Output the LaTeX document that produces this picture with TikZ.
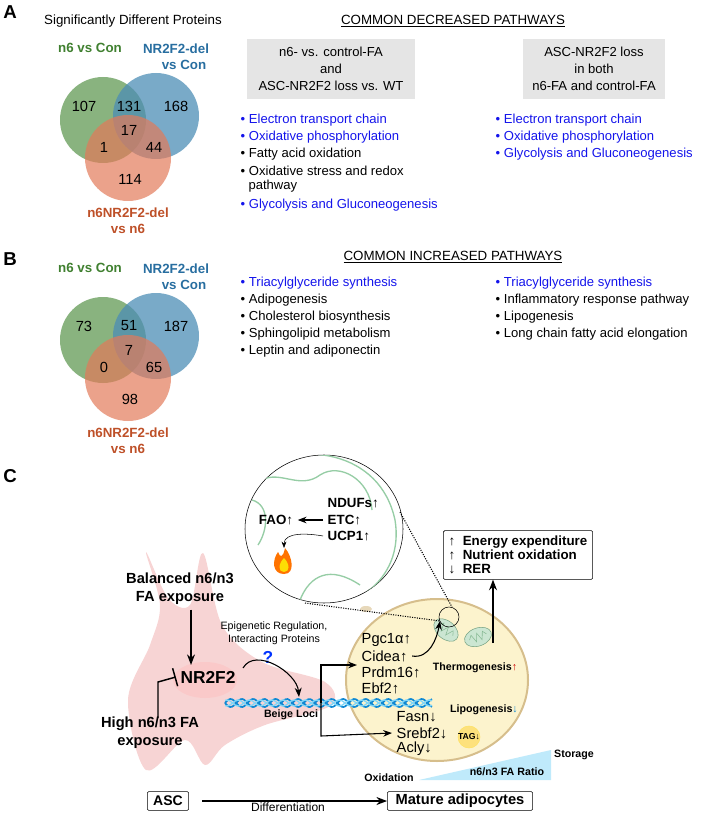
\documentclass[tikz,border=0pt]{standalone}
\usepackage{fontspec}
\setmainfont{Liberation Sans}
\usetikzlibrary{arrows.meta,positioning,shapes.geometric}
\definecolor{venngreen}{RGB}{98,154,84}
\definecolor{vennblue}{RGB}{76,141,181}
\definecolor{vennred}{RGB}{226,122,90}
\definecolor{labgreen}{RGB}{64,128,48}
\definecolor{labblue}{RGB}{40,110,160}
\definecolor{labred}{RGB}{190,80,40}
\definecolor{pathblue}{RGB}{20,20,235}
\definecolor{cellpink}{RGB}{246,205,205}
\definecolor{fatbeige}{RGB}{252,243,205}
\definecolor{fatedge}{RGB}{214,190,140}
\definecolor{mitogreen}{RGB}{150,205,165}

\begin{document}
\begin{tikzpicture}[x=0.75pt,y=-0.75pt,>=Stealth, every node/.style={font=\fontsize{9.5}{11}\selectfont}]
    % Styles
    \tikzset{panel/.style   ={font=\bfseries\fontsize{14}{16}\selectfont}}
    \tikzset{num/.style     ={font=\fontsize{11}{12}\selectfont}}
    \tikzset{vlab/.style    ={font=\bfseries\fontsize{10}{12}\selectfont}}
    \tikzset{head/.style    ={font=\fontsize{10}{12}\selectfont}}
    \tikzset{bul/.style     ={anchor=west,font=\fontsize{9.8}{11}\selectfont}}
    \tikzset{graybox/.style ={fill=gray!20,draw=none,align=center,font=\fontsize{9.8}{12.8}\selectfont}}
    \tikzset{bold/.style    ={font=\bfseries\fontsize{10}{12}\selectfont}}
    \tikzset{small/.style   ={font=\bfseries\fontsize{8}{9}\selectfont}}
    \tikzset{gene/.style    ={anchor=west,font=\fontsize{11}{12}\selectfont}}
    \tikzset{outbox/.style  ={draw,thin,rounded corners=1pt}}
    \tikzset{flow/.style    ={->,thick}}

    \useasboundingbox (0,0) rectangle (713,816);

    % Panel A
    \node[panel] (pA) at (10,12) {A};
    \node[head] (sdp) at (133,21) {Significantly Different Proteins};
    \foreach \dy/\ga/\gb/\gc/\gab/\gac/\gbc/\gabc/\pn in
      {0/107/168/114/131/1/44/17/a, 220/73/187/98/51/0/65/7/b} {
      \fill[venngreen,opacity=0.75] (103,120+\dy) circle (43);
      \fill[vennblue,opacity=0.75]  (156,116+\dy) circle (43);
      \fill[vennred,opacity=0.7]    (128,158+\dy) circle (43);
      \node[num] (\pn1) at (84,106+\dy)  {\ga};
      \node[num] (\pn2) at (176,106+\dy) {\gb};
      \node[num] (\pn3) at (130,179+\dy) {\gc};
      \node[num] (\pn4) at (129,106+\dy) {\gab};
      \node[num] (\pn5) at (104,147+\dy) {\gac};
      \node[num] (\pn6) at (154,147+\dy) {\gbc};
      \node[num] (\pn7) at (129,130+\dy) {\gabc};
      \node[vlab,text=labgreen] (\pn8) at (90,48+\dy)   {n6 vs Con};
      \node[vlab,text=labblue,align=center] (\pn9) at (176,57+\dy) {NR2F2-del\\\hspace*{1.2em}vs Con};
      \node[vlab,text=labred,align=center] (\pn0) at (128,221+\dy) {n6NR2F2-del\\vs n6};
    }

    % Decreased pathways
    \node[head] (dec) at (453,21) {\underline{COMMON DECREASED PATHWAYS}};
    \node[graybox,minimum width=126pt,minimum height=45pt] (boxa) at (331,69)
      {n6- vs. control-FA\\and\\ASC-NR2F2 loss vs. WT};
    \node[graybox,minimum width=107pt,minimum height=45pt] (boxb) at (594,69)
      {ASC-NR2F2 loss\\in both\\n6-FA and control-FA};
    \node[bul,text=pathblue] (d1) at (236,120) {• Electron transport chain};
    \node[bul,text=pathblue] (d2) at (236,137) {• Oxidative phosphorylation};
    \node[bul] (d3) at (236,154) {• Fatty acid oxidation};
    \node[bul,align=left] (d4) at (236,179) {• Oxidative stress and redox\\\hspace*{0.6em}pathway};
    \node[bul,text=pathblue] (d5) at (236,205) {• Glycolysis and Gluconeogenesis};
    \node[bul,text=pathblue] (e1) at (491,120) {• Electron transport chain};
    \node[bul,text=pathblue] (e2) at (491,137) {• Oxidative phosphorylation};
    \node[bul,text=pathblue] (e3) at (491,154) {• Glycolysis and Gluconeogenesis};

    % Panel B and increased pathways
    \node[panel] (pB) at (10,259) {B};
    \node[head] (inc) at (453,257) {\underline{COMMON INCREASED PATHWAYS}};
    \node[bul,text=pathblue] (i1) at (236,283) {• Triacylglyceride synthesis};
    \node[bul] (i2) at (236,300) {• Adipogenesis};
    \node[bul] (i3) at (236,317) {• Cholesterol biosynthesis};
    \node[bul] (i4) at (236,334) {• Sphingolipid metabolism};
    \node[bul] (i5) at (236,351) {• Leptin and adiponectin};
    \node[bul,text=pathblue] (j1) at (491,283) {• Triacylglyceride synthesis};
    \node[bul] (j2) at (491,300) {• Inflammatory response pathway};
    \node[bul] (j3) at (491,317) {• Lipogenesis};
    \node[bul] (j4) at (491,334) {• Long chain fatty acid elongation};

    % Panel C
    \node[panel] (pC) at (10,476) {C};
    % stem cell
    \fill[cellpink,opacity=0.85] plot[smooth cycle,tension=0.55] coordinates
      {(146,552) (160,605) (150,645) (128,700) (146,770) (185,740) (205,765)
       (225,745) (265,725) (330,706) (325,682) (262,662) (222,625) (203,553)
       (190,605) (168,598)};
    \fill[red!25,opacity=0.5] (205,680) ellipse (32 and 18);
    % adipocyte
    \filldraw[fill=fatbeige,draw=fatedge,line width=1.5pt] (437,680) ellipse (91 and 81);
    \fill[fatedge!60] (366,609) ellipse (6 and 3);
    \foreach \mx/\my/\mr in {446/630/-40, 478/637/20} {
      \filldraw[fill=mitogreen!50,draw=mitogreen!80!black,thin,rotate around={\mr:(\mx,\my)}] (\mx,\my) ellipse (14 and 9);
      \draw[mitogreen!90!black,thin,rotate around={\mr:(\mx,\my)}] (\mx-9,\my) -- (\mx-6,\my-4) -- (\mx-3,\my+4) -- (\mx,\my-4) -- (\mx+3,\my+4) -- (\mx+6,\my-4) -- (\mx+9,\my);
    }
    % TAG droplet
    \filldraw[fill=yellow!60!orange!50,draw=yellow!70!orange!60] (469,737) circle (11);
    \node[font=\bfseries\fontsize{6.5}{7}\selectfont] (tag) at (469,737) {TAG↓};
    % magnifier
    \draw[fill=white] (324,529) ellipse (79 and 74);
    \begin{scope}
      \clip (324,529) ellipse (79 and 74);
      \draw[mitogreen,line width=1pt] (250,470) .. controls (300,440) and (380,450) .. (395,520)
        .. controls (405,580) and (350,620) .. (290,605);
      \draw[mitogreen,line width=1pt] (262,480) .. controls (280,470) and (300,490) .. (320,475)
        .. controls (340,462) and (370,480) .. (372,510);
      \draw[mitogreen,line width=1pt] (300,600) .. controls (310,575) and (330,565) .. (360,585);
      \draw[mitogreen,line width=1pt] (252,500) .. controls (270,505) and (268,530) .. (258,545);
    \end{scope}
    \coordinate (ml) at (305,603);
    \coordinate (mr) at (400,512);
    \draw (449,617) circle (10);
    \coordinate (sl) at (440,621);
    \coordinate (st) at (452,607);
    \draw[densely dotted,thick] (ml) -- (sl);
    \draw[densely dotted,thick] (mr) -- (st);
    \node[bold,anchor=west] (nduf) at (323,503) {NDUFs↑};
    \node[bold,anchor=west] (etc)  at (323,520) {ETC↑};
    \node[bold,anchor=west] (ucp)  at (323,536) {UCP1↑};
    \node[bold] (fao) at (276,520) {FAO↑};
    \draw[->,thick] (etc) -- (fao);
    % flame
    \fill[orange!90!red] (284,574) .. controls (272,574) and (272,560) .. (278,552)
      .. controls (280,558) and (283,558) .. (285,548) .. controls (292,556) and (296,574) .. (284,574);
    \fill[yellow!80!orange] (284,572) .. controls (278,572) and (278,564) .. (284,558)
      .. controls (290,564) and (290,572) .. (284,572);
    \coordinate (flame) at (284,548);
    \draw[->] (ucp.west) to[out=170,in=90] (flame);
    % outcome box
    \node[outbox,align=left,font=\bfseries\fontsize{10}{10.5}\selectfont,inner sep=4pt] (out) at (518,555)
      {↑ \ Energy expenditure\\↑ \ Nutrient oxidation\\↓ \ RER};
    \coordinate (up) at (493,643);
    \draw[flow,line width=1.1pt] (up) -- (out.south -| up);
    % genes
    \node[gene] (pgc) at (357,640) {Pgc1α↑};
    \node[gene] (cid) at (357,656) {Cidea↑};
    \node[gene] (prd) at (357,672) {Prdm16↑};
    \node[gene] (ebf) at (357,688) {Ebf2↑};
    \node[gene] (fas) at (392,717) {Fasn↓};
    \node[gene] (sre) at (392,733) {Srebf2↓};
    \node[gene] (acl) at (392,749) {Acly↓};
    \node[small] (thermo) at (475,668) {Thermogenesis\textcolor{red!80!black}{↑}};
    \node[small] (lipo) at (484,710) {Lipogenesis\textcolor{cyan!70!blue}{↓}};
    \draw[->,thick] (cid.east) to[out=-10,in=260] (sl);
    % DNA helix
    \foreach \ph in {0,180} {
      \draw[cyan!70!blue,line width=1.3pt,domain=225:432,samples=120,smooth]
        plot (\x,{703+4*sin(16*\x+\ph)});
    }
    \foreach \ph in {60,240} {
      \draw[cyan!50,line width=1pt,domain=225:432,samples=120,smooth]
        plot (\x,{703+3*sin(16*\x+\ph)});
    }
    \node[small] (loci) at (291,715) {Beige Loci};
    \coordinate (dna) at (321,703);
    \draw[->,thick] (dna) -- (321,665) -- (pgc.south west |- 0,665);
    \draw[->,thick] (dna) -- (321,736) -- (sre.west);
    % NR2F2 regulation
    \node[font=\bfseries\fontsize{13}{15}\selectfont] (nr) at (208,677) {NR2F2};
    \node[font=\bfseries\fontsize{11}{13.5}\selectfont,align=center] (bal) at (180,589) {Balanced n6/n3\\FA exposure};
    \node[font=\bfseries\fontsize{11}{13.5}\selectfont,align=center] (high) at (150,733) {High n6/n3 FA\\exposure};
    \draw[flow,line width=1.1pt] (bal.south -| 191,0) -- (191,665);
    \draw[line width=1.1pt,-{Bar[width=14pt]}] (158,718) -- (158,682) -- (nr.west);
    \node[font=\fontsize{8}{9.5}\selectfont,align=center] (epi) at (274,633) {Epigenetic Regulation,\\Interacting Proteins};
    \node[text=blue!80!cyan,font=\bfseries\fontsize{13}{14}\selectfont] (q) at (268,657) {?};
    \coordinate (hit) at (299,697);
    \draw[-{Stealth[length=7pt]},thick] (243,668) to[out=60,in=95] (hit);
    % ratio wedge
    \fill[cyan!25] (419,780) -- (551,750) -- (551,780) -- cycle;
    \node[small] (oxi) at (389,778) {Oxidation};
    \node[small] (sto) at (574,755) {Storage};
    \node[small] (rat) at (507,772) {n6/n3 FA Ratio};
    % differentiation
    \node[outbox,font=\bfseries\fontsize{10.5}{12}\selectfont,minimum width=31pt,minimum height=14pt,inner sep=1pt] (asc) at (168,801) {ASC};
    \node[outbox,font=\bfseries\fontsize{11}{12}\selectfont,minimum width=109pt,minimum height=14pt,inner sep=1pt] (mat) at (460,801) {Mature adipocytes};
    \draw[-{Stealth[length=8pt]},line width=1.1pt,shorten <=10pt] (asc) -- node[below,inner sep=1pt,font=\fontsize{9}{10}\selectfont] (dif) {Differentiation} (mat);
  \end{tikzpicture}
\end{document}
